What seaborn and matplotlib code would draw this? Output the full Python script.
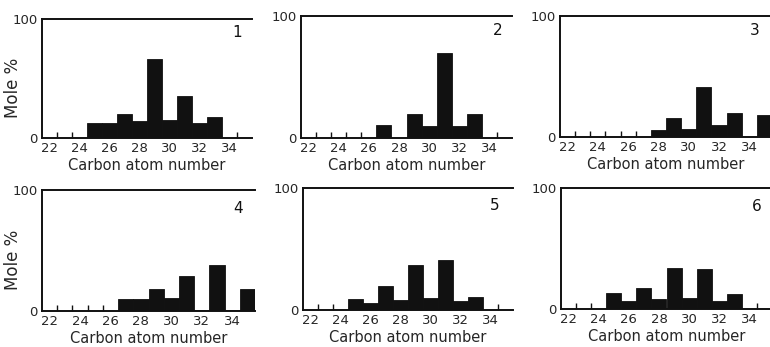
import matplotlib
matplotlib.use("Agg")
import matplotlib.pyplot as plt
import seaborn as sns
import pandas as pd

sns.set_theme(style="white")
plt.rcParams['font.family'] = ['DejaVu Sans']

carbon = list(range(22, 36))
p1 = [0, 0, 0, 13, 13, 20, 14, 66, 15, 35, 13, 18, 0, 0]
p2 = [0, 0, 0, 0, 0, 11, 0, 20, 10, 70, 10, 20, 0, 0]
p3 = [0, 0, 0, 0, 0, 0, 6, 16, 7, 41, 10, 20, 0, 18]
p4 = [0, 0, 0, 0, 0, 10, 10, 18, 11, 29, 0.5, 38, 0.5, 18]
p5 = [0, 0, 0, 9, 6, 20, 8, 37, 10, 41, 7.5, 11, 0, 0]
p6 = [0, 0, 0, 13, 7, 17, 8, 34, 9, 33, 7, 12, 0, 0]
series = [p1, p2, p3, p4, p5, p6]
panel_labels = ["1", "2", "3", "4", "5", "6"]
traces = [
    [22.5, 23.5, 34.5],
    [22.5, 23.5, 24.5, 25.5, 34.5],
    [22.5, 23.5, 24.5, 25.5, 26.5],
    [22.5, 23.5, 24.5, 25.5],
    [22.5, 23.5, 34.5],
    [22.5, 23.5, 34.5],
]
xtick_vals = [22, 24, 26, 28, 30, 32, 34]
ytick_vals = [0, 100]

W, H = 770, 347
fig = plt.figure(figsize=(W / 100, H / 100), dpi=100)

# (left, top, right, bottom) in pixels
boxes = [
    (42, 19, 252, 138),
    (301, 16, 512, 138),
    (560, 16, 772, 137),
    (42, 190, 255, 311),
    (303, 188, 513, 310),
    (561, 188, 772, 309),
]
num_pos = [(0.93, 0.89), (0.93, 0.88), (0.92, 0.88), (0.92, 0.85), (0.915, 0.86), (0.93, 0.85)]

for i, (vals, box) in enumerate(zip(series, boxes)):
    l, t, r, b = box
    ax = fig.add_axes([l / W, 1 - b / H, (r - l) / W, (b - t) / H])
    df = pd.DataFrame({"carbon": carbon, "mole": vals})
    sns.histplot(data=df, x="carbon", weights="mole", discrete=True, shrink=1,
                 color="#111111", edgecolor="#111111", alpha=1, linewidth=0.6, ax=ax)
    ax.set_xlim(21.5, 35.5)
    ax.set_ylim(0, 100)
    ax.set_xticks(xtick_vals)
    ax.set_xticklabels([str(v) for v in xtick_vals], fontsize=9.5)
    ax.set_xticks(traces[i], minor=True)
    ax.set_yticks(ytick_vals)
    ax.set_yticklabels([str(v) for v in ytick_vals], fontsize=9.5)
    ax.tick_params(axis="x", which="major", length=0, pad=3)
    ax.tick_params(axis="x", which="minor", direction="in", length=4, width=1, color="#111111", bottom=True)
    ax.tick_params(axis="y", which="major", length=0, pad=3)
    for s in ["left", "bottom", "top"]:
        ax.spines[s].set_color("#111111")
        ax.spines[s].set_linewidth(1.4)
    ax.spines["right"].set_visible(False)
    ax.set_xlabel("Carbon atom number", fontsize=10.5, labelpad=2)
    if i in (0, 3):
        ax.set_ylabel("Mole %", fontsize=12)
        ax.yaxis.set_label_coords(-20 / (r - l), 0.42)
    else:
        ax.set_ylabel("")
    ax.text(num_pos[i][0], num_pos[i][1], panel_labels[i], transform=ax.transAxes,
            fontsize=11, ha="center", va="center", color="#111111")

fig.savefig("out.png", dpi=100)
